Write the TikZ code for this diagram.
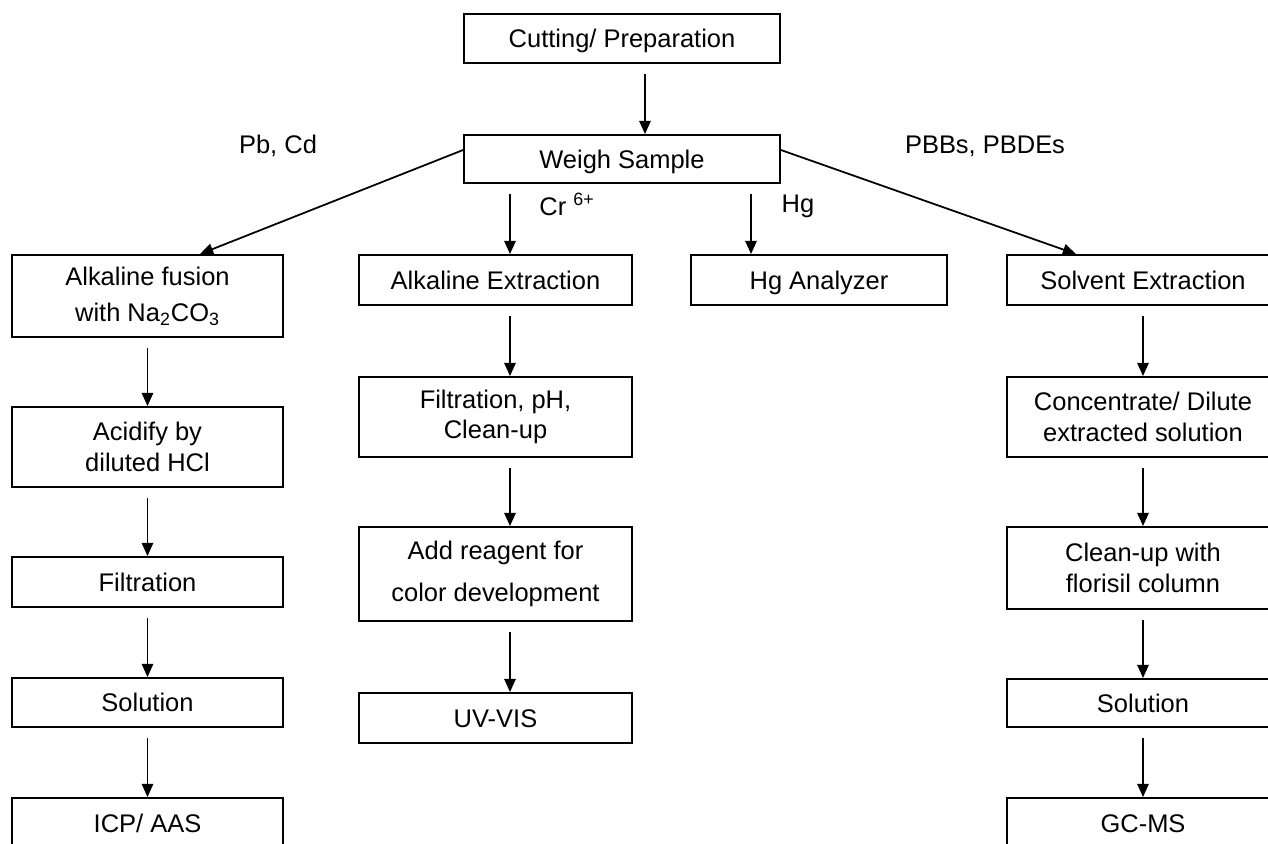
\documentclass[tikz,border=0pt]{standalone}
\usepackage{fontspec}
\setmainfont{Liberation Sans}
\usepackage{tikz}
\usetikzlibrary{positioning,arrows.meta,calc}

\begin{document}
\begin{tikzpicture}[x=0.02cm,y=-0.02cm,
    box/.style={draw,line width=1.1pt,inner sep=0pt,align=center,font=\fontsize{14.5}{17.5}\selectfont},
    single/.style={box,text height=10.5pt,text depth=0pt},
    arr/.style={-{Triangle[length=7.5pt,width=6.5pt]},line width=1pt,shorten <=0.2cm},
    slant/.style={-{Triangle[length=7.5pt,width=6.5pt]},line width=1pt},
    lbl/.style={anchor=base,font=\fontsize{14.5}{17.5}\selectfont}]
    \useasboundingbox (0,0) rectangle (1268,843);
    \clip (0,0) rectangle (1268,843);

    % Common steps
    \node[single,minimum width=6.32cm,minimum height=0.98cm] (cut) at (622,38.5) {Cutting/ Preparation};
    \node[single,minimum width=6.32cm,minimum height=0.96cm] (weigh) at (622,159) {Weigh Sample};

    % Pb, Cd column
    \node[box,minimum width=5.42cm,minimum height=1.64cm] (fusion) at (147.5,296) {Alkaline fusion\\[3pt] with Na\textsubscript{2}CO\textsubscript{3}};
    \node[box,minimum width=5.42cm,minimum height=1.6cm] (acid) at (147.5,447) {Acidify by\\ diluted HCl};
    \node[single,minimum width=5.42cm,minimum height=1cm] (filt) at (147.5,582) {Filtration};
    \node[single,minimum width=5.42cm,minimum height=0.98cm] (sola) at (147.5,702.5) {Solution};
    \node[single,minimum width=5.42cm,minimum height=1cm] (icp) at (147.5,823) {ICP/ AAS};

    % Cr6+ column
    \node[single,minimum width=5.46cm,minimum height=1cm] (alkext) at (495.5,280) {Alkaline Extraction};
    \node[box,minimum width=5.46cm,minimum height=1.6cm] (filtph) at (495.5,417) {Filtration, pH,\\ Clean-up};
    \node[box,minimum width=5.46cm,minimum height=1.88cm] (reagent) at (495.5,574) {Add reagent for\\[6pt] color development};
    \node[single,minimum width=5.46cm,minimum height=1cm] (uvvis) at (495.5,718) {UV-VIS};

    % Hg column
    \node[single,minimum width=5.12cm,minimum height=1cm] (hgan) at (819,280) {Hg Analyzer};

    % PBBs, PBDEs column
    \node[single,minimum width=5.44cm,minimum height=1cm] (solvext) at (1143,280) {Solvent Extraction};
    \node[box,minimum width=5.44cm,minimum height=1.6cm] (conc) at (1143,417) {Concentrate/ Dilute\\ extracted solution};
    \node[box,minimum width=5.44cm,minimum height=1.64cm] (cleanup) at (1143,568) {Clean-up with\\ florisil column};
    \node[single,minimum width=5.44cm,minimum height=0.96cm] (solb) at (1143,703) {Solution};
    \node[single,minimum width=5.44cm,minimum height=1cm] (gcms) at (1143,823) {GC-MS};

    % Branch labels
    \node[lbl] (pbcd) at (278,153) {Pb, Cd};
    \node[lbl] (pbb) at (985,153) {PBBs, PBDEs};
    \node[lbl] (cr) at (567,215) {Cr \textsuperscript{6+}};
    \node[lbl] (hg) at (798,212) {Hg};

    % Arrows from the top
    \draw[arr] ([xshift=0.46cm]cut.south) -- ([xshift=0.46cm]weigh.north);
    \draw[slant] ([yshift=0.18cm]weigh.west) -- ([xshift=1.05cm]fusion.north);
    \draw[slant] ([yshift=0.18cm]weigh.east) -- ([xshift=-1.34cm]solvext.north);
    \draw[arr] ([xshift=0.29cm]alkext.north |- weigh.south) -- ([xshift=0.29cm]alkext.north);
    \draw[arr] ([xshift=-1.36cm]hgan.north |- weigh.south) -- ([xshift=-1.36cm]hgan.north);

    % Pb, Cd steps
    \draw[arr] (fusion) -- (acid);
    \draw[arr] (acid) -- (filt);
    \draw[arr] (filt) -- (sola);
    \draw[arr] (sola) -- (icp);

    % Cr6+ steps
    \draw[arr] ([xshift=0.29cm]alkext.south) -- ([xshift=0.29cm]filtph.north);
    \draw[arr] ([xshift=0.29cm]filtph.south) -- ([xshift=0.29cm]reagent.north);
    \draw[arr] ([xshift=0.29cm]reagent.south) -- ([xshift=0.29cm]uvvis.north);

    % PBBs, PBDEs steps
    \draw[arr] (solvext) -- (conc);
    \draw[arr] (conc) -- (cleanup);
    \draw[arr] (cleanup) -- (solb);
    \draw[arr] (solb) -- (gcms);
\end{tikzpicture}
\end{document}
